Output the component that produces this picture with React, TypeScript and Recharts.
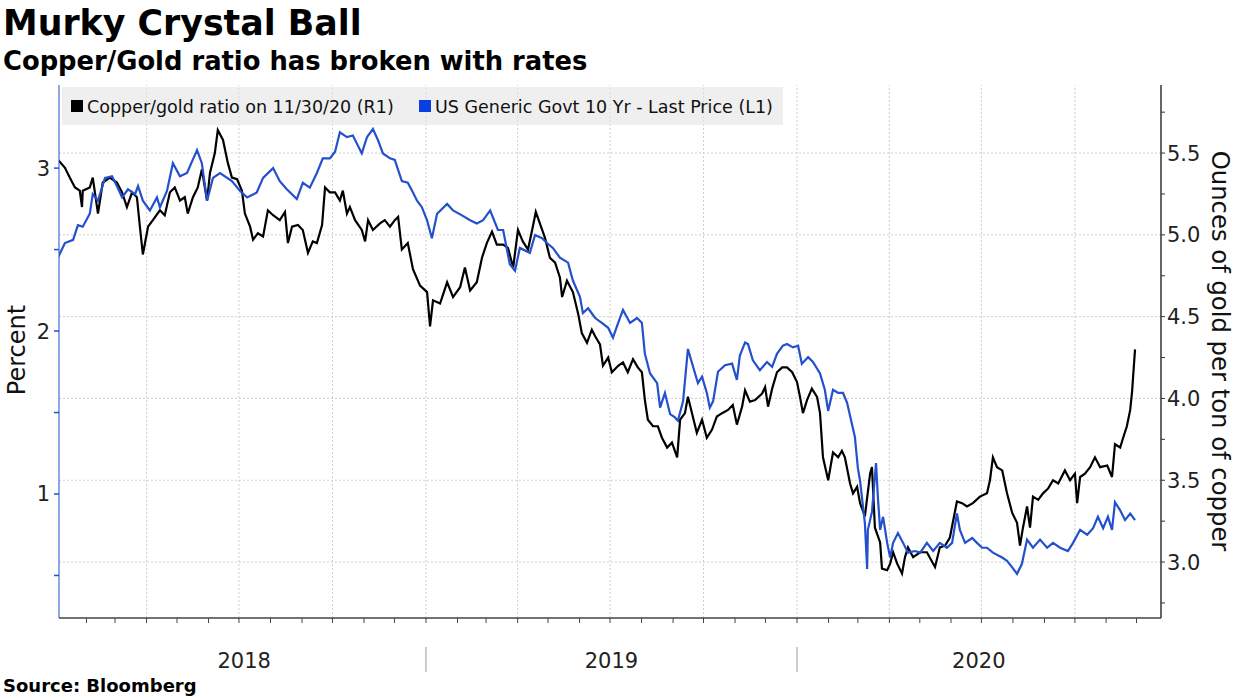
import { LineChart, Line, XAxis, YAxis, ReferenceLine } from 'recharts';

const FONT = '"DejaVu Sans", Verdana, sans-serif';
const BLUE = '#2350cc';
const GRID = '#cfcfcf';

// dates as decimal years
const copperDates = [
  2018.008, 2018.027, 2018.040, 2018.054, 2018.067, 2018.073, 2018.075, 2018.094, 2018.102, 2018.116,
  2018.129, 2018.148, 2018.167, 2018.181, 2018.194, 2018.208, 2018.221, 2018.229, 2018.237, 2018.251,
  2018.264, 2018.283, 2018.296, 2018.310, 2018.323, 2018.337, 2018.350, 2018.358, 2018.372, 2018.385,
  2018.396, 2018.410, 2018.418, 2018.431, 2018.439, 2018.453, 2018.466, 2018.477, 2018.491, 2018.504,
  2018.512, 2018.526, 2018.534, 2018.547, 2018.561, 2018.574, 2018.588, 2018.606, 2018.620, 2018.628,
  2018.639, 2018.655, 2018.668, 2018.682, 2018.695, 2018.706, 2018.720, 2018.728, 2018.741, 2018.755,
  2018.768, 2018.776, 2018.787, 2018.795, 2018.809, 2018.827, 2018.836, 2018.844, 2018.857, 2018.876,
  2018.889, 2018.903, 2018.916, 2018.925, 2018.935, 2018.951, 2018.965, 2018.984, 2019.003, 2019.011,
  2019.019, 2019.038, 2019.057, 2019.073, 2019.092, 2019.105, 2019.119, 2019.137, 2019.151, 2019.164,
  2019.178, 2019.191, 2019.208, 2019.221, 2019.235, 2019.248, 2019.261, 2019.275, 2019.288, 2019.296,
  2019.307, 2019.321, 2019.334, 2019.348, 2019.361, 2019.367, 2019.380, 2019.396, 2019.410, 2019.420,
  2019.434, 2019.447, 2019.456, 2019.469, 2019.477, 2019.491, 2019.501, 2019.518, 2019.531, 2019.544,
  2019.558, 2019.571, 2019.582, 2019.590, 2019.598, 2019.612, 2019.625, 2019.636, 2019.650, 2019.663,
  2019.677, 2019.685, 2019.698, 2019.706, 2019.717, 2019.730, 2019.744, 2019.757, 2019.771, 2019.784,
  2019.798, 2019.814, 2019.827, 2019.838, 2019.852, 2019.860, 2019.873, 2019.887, 2019.906, 2019.914,
  2019.922, 2019.933, 2019.946, 2019.960, 2019.973, 2019.987, 2020.000, 2020.008, 2020.016, 2020.027,
  2020.040, 2020.054, 2020.062, 2020.070, 2020.084, 2020.097, 2020.111, 2020.121, 2020.129, 2020.143,
  2020.151, 2020.162, 2020.170, 2020.183, 2020.197, 2020.202, 2020.210, 2020.224, 2020.229, 2020.243,
  2020.251, 2020.259, 2020.270, 2020.283, 2020.291, 2020.299, 2020.313, 2020.332, 2020.350, 2020.372,
  2020.385, 2020.399, 2020.412, 2020.431, 2020.445, 2020.458, 2020.474, 2020.493, 2020.512, 2020.520,
  2020.528, 2020.539, 2020.553, 2020.566, 2020.580, 2020.593, 2020.601, 2020.609, 2020.620, 2020.628,
  2020.636, 2020.650, 2020.663, 2020.677, 2020.690, 2020.704, 2020.722, 2020.736, 2020.749, 2020.755,
  2020.763, 2020.776, 2020.790, 2020.803, 2020.817, 2020.836, 2020.849, 2020.857, 2020.871, 2020.879,
  2020.889, 2020.898, 2020.903, 2020.911,
];
const copperRatio = [
  5.46, 5.41, 5.35, 5.29, 5.27, 5.17, 5.27, 5.29, 5.35, 5.13,
  5.32, 5.35, 5.32, 5.26, 5.17, 5.26, 5.23, 5.05, 4.88, 5.05,
  5.09, 5.15, 5.12, 5.26, 5.29, 5.21, 5.23, 5.13, 5.23, 5.29,
  5.40, 5.21, 5.38, 5.50, 5.64, 5.58, 5.44, 5.35, 5.34, 5.27,
  5.13, 5.05, 4.97, 5.01, 4.99, 5.15, 5.12, 5.09, 5.14, 4.95,
  5.05, 5.06, 5.03, 4.89, 4.96, 4.95, 5.06, 5.29, 5.26, 5.26,
  5.21, 5.27, 5.13, 5.17, 5.09, 5.03, 4.96, 5.09, 5.03, 5.07,
  5.09, 5.05, 5.09, 5.11, 4.91, 4.95, 4.79, 4.69, 4.65, 4.44,
  4.60, 4.58, 4.71, 4.62, 4.68, 4.80, 4.66, 4.71, 4.86, 4.95,
  5.02, 4.94, 4.94, 4.92, 4.80, 5.03, 4.96, 4.91, 5.05, 5.14,
  5.07, 4.98, 4.86, 4.83, 4.74, 4.62, 4.72, 4.65, 4.52, 4.40,
  4.34, 4.42, 4.38, 4.33, 4.20, 4.25, 4.16, 4.20, 4.22, 4.16,
  4.24, 4.19, 4.16, 3.99, 3.87, 3.83, 3.83, 3.76, 3.70, 3.73,
  3.64, 3.87, 3.91, 4.01, 3.91, 3.79, 3.87, 3.76, 3.81, 3.89,
  3.91, 3.93, 3.96, 3.84, 3.95, 4.05, 3.98, 3.99, 4.03, 4.07,
  3.95, 4.06, 4.16, 4.19, 4.19, 4.16, 4.10, 4.01, 3.91, 3.99,
  4.06, 4.01, 3.91, 3.64, 3.50, 3.67, 3.64, 3.68, 3.64, 3.48,
  3.42, 3.46, 3.36, 3.28, 3.54, 3.58, 3.21, 3.12, 2.96, 2.95,
  2.99, 3.06, 2.99, 2.93, 3.03, 3.09, 3.03, 3.06, 3.06, 2.97,
  3.09, 3.10, 3.15, 3.37, 3.36, 3.34, 3.36, 3.40, 3.42, 3.50,
  3.64, 3.58, 3.56, 3.42, 3.30, 3.24, 3.10, 3.21, 3.34, 3.21,
  3.40, 3.38, 3.42, 3.45, 3.50, 3.48, 3.56, 3.50, 3.54, 3.36,
  3.52, 3.54, 3.58, 3.64, 3.58, 3.59, 3.52, 3.72, 3.70, 3.76,
  3.83, 3.93, 4.04, 4.30,
];

const yieldDates = [
  2018.008, 2018.027, 2018.049, 2018.062, 2018.075, 2018.094, 2018.102, 2018.116, 2018.135, 2018.154,
  2018.167, 2018.181, 2018.197, 2018.216, 2018.224, 2018.237, 2018.256, 2018.275, 2018.283, 2018.302,
  2018.318, 2018.337, 2018.356, 2018.383, 2018.396, 2018.410, 2018.426, 2018.445, 2018.477, 2018.499,
  2018.518, 2018.544, 2018.561, 2018.588, 2018.606, 2018.625, 2018.652, 2018.668, 2018.687, 2018.706,
  2018.722, 2018.741, 2018.755, 2018.768, 2018.787, 2018.803, 2018.827, 2018.841, 2018.857, 2018.871,
  2018.884, 2018.903, 2018.916, 2018.935, 2018.951, 2018.965, 2018.976, 2018.989, 2019.003, 2019.016,
  2019.030, 2019.057, 2019.073, 2019.097, 2019.119, 2019.137, 2019.154, 2019.173, 2019.194, 2019.208,
  2019.226, 2019.240, 2019.253, 2019.280, 2019.294, 2019.313, 2019.326, 2019.342, 2019.361, 2019.383,
  2019.396, 2019.415, 2019.423, 2019.437, 2019.456, 2019.474, 2019.491, 2019.504, 2019.518, 2019.531,
  2019.550, 2019.569, 2019.582, 2019.590, 2019.604, 2019.623, 2019.631, 2019.644, 2019.658, 2019.671,
  2019.679, 2019.693, 2019.706, 2019.720, 2019.733, 2019.744, 2019.757, 2019.765, 2019.774, 2019.787,
  2019.806, 2019.825, 2019.838, 2019.846, 2019.860, 2019.868, 2019.881, 2019.900, 2019.919, 2019.933,
  2019.946, 2019.962, 2019.973, 2019.989, 2020.003, 2020.013, 2020.030, 2020.043, 2020.062, 2020.075,
  2020.084, 2020.097, 2020.111, 2020.124, 2020.135, 2020.148, 2020.156, 2020.164, 2020.170, 2020.175,
  2020.183, 2020.189, 2020.191, 2020.202, 2020.213, 2020.218, 2020.224, 2020.232, 2020.243, 2020.251,
  2020.259, 2020.272, 2020.286, 2020.299, 2020.318, 2020.332, 2020.350, 2020.367, 2020.385, 2020.404,
  2020.418, 2020.431, 2020.439, 2020.453, 2020.472, 2020.485, 2020.499, 2020.512, 2020.528, 2020.553,
  2020.566, 2020.580, 2020.593, 2020.606, 2020.620, 2020.636, 2020.655, 2020.674, 2020.690, 2020.709,
  2020.730, 2020.744, 2020.763, 2020.782, 2020.798, 2020.811, 2020.825, 2020.838, 2020.849, 2020.857,
  2020.871, 2020.884, 2020.898, 2020.911,
];
const yieldPct = [
  2.45, 2.54, 2.56, 2.65, 2.64, 2.72, 2.84, 2.80, 2.94, 2.95,
  2.89, 2.82, 2.87, 2.84, 2.89, 2.80, 2.74, 2.82, 2.76, 2.86,
  3.03, 2.95, 2.97, 3.11, 3.03, 2.80, 2.94, 2.97, 2.92, 2.86,
  2.82, 2.85, 2.94, 3.00, 2.92, 2.87, 2.81, 2.91, 2.88, 2.97,
  3.06, 3.06, 3.10, 3.22, 3.19, 3.20, 3.09, 3.19, 3.24, 3.17,
  3.09, 3.06, 3.05, 2.92, 2.91, 2.85, 2.80, 2.76, 2.68, 2.57,
  2.72, 2.78, 2.74, 2.71, 2.68, 2.66, 2.68, 2.74, 2.62, 2.62,
  2.41, 2.37, 2.51, 2.48, 2.59, 2.57, 2.54, 2.51, 2.45, 2.42,
  2.31, 2.21, 2.11, 2.14, 2.08, 2.05, 2.02, 1.96, 2.05, 2.13,
  2.05, 2.08, 2.05, 1.86, 1.74, 1.68, 1.53, 1.62, 1.49, 1.47,
  1.45, 1.57, 1.89, 1.78, 1.68, 1.72, 1.62, 1.53, 1.57, 1.75,
  1.79, 1.80, 1.70, 1.85, 1.93, 1.92, 1.82, 1.76, 1.81, 1.78,
  1.86, 1.91, 1.92, 1.90, 1.91, 1.80, 1.84, 1.81, 1.74, 1.64,
  1.51, 1.64, 1.62, 1.62, 1.56, 1.43, 1.35, 1.16, 1.08, 0.98,
  0.82, 0.54, 0.78, 0.89, 1.19, 0.98, 0.78, 0.86, 0.70, 0.61,
  0.70, 0.76, 0.70, 0.64, 0.65, 0.64, 0.70, 0.65, 0.70, 0.67,
  0.70, 0.88, 0.78, 0.70, 0.73, 0.70, 0.67, 0.67, 0.64, 0.61,
  0.59, 0.55, 0.51, 0.57, 0.72, 0.67, 0.72, 0.67, 0.70, 0.67,
  0.65, 0.70, 0.78, 0.75, 0.79, 0.86, 0.79, 0.86, 0.78, 0.95,
  0.90, 0.84, 0.88, 0.84,
];

// axis ticks (decimal years): month starts, quarter grid, year boundaries and label spots
const monthTicks = [
  2018.085, 2018.162, 2018.247, 2018.329, 2018.414, 2018.496, 2018.581, 2018.666, 2018.748, 2018.833, 2018.915,
  2019, 2019.085, 2019.162, 2019.247, 2019.329, 2019.414, 2019.496, 2019.581, 2019.666, 2019.748, 2019.833, 2019.915,
  2020, 2020.085, 2020.164, 2020.249, 2020.331, 2020.415, 2020.497, 2020.582, 2020.667, 2020.749, 2020.833, 2020.915,
];
const quarterTicks = [2018.247, 2018.496, 2018.748, 2019, 2019.247, 2019.496, 2019.748, 2020, 2020.249, 2020.497, 2020.749];
const yearStarts = [2019, 2020];
const yearLabelTicks = [2018.51, 2019.5, 2020.49];
const yearLabels = ['2018', '2019', '2020'];

const pctTicks = [0.5, 1, 1.5, 2, 2.5, 3];
const ratioTicks = [2.75, 3, 3.25, 3.5, 3.75, 4, 4.25, 4.5, 4.75, 5, 5.25, 5.5, 5.75];
const ratioGrid = [3, 3.5, 4, 4.5, 5, 5.5];

const copperData = copperDates.map((t, i) => ({ t, v: copperRatio[i] }));
const yieldData = yieldDates.map((t, i) => ({ t, v: yieldPct[i] }));

function YearTick(props: any) {
  const { x, y, payload } = props;
  const v = payload.value;
  const li = yearLabelTicks.indexOf(v);
  if (li >= 0) {
    return (
      <text x={x} y={y + 50} textAnchor="middle" fontFamily={FONT} fontSize={21} fill="#222">
        {yearLabels[li]}
      </text>
    );
  }
  return (
    <g>
      <line x1={x} x2={x} y1={y} y2={y + 5} stroke="#444" />
      {yearStarts.includes(v) && <line x1={x} x2={x} y1={y + 29} y2={y + 54} stroke="#999" />}
    </g>
  );
}

export default function App() {
  return (
    <div style={{ position: 'absolute', left: 0, top: 0, width: 1240, height: 697, background: '#fff' }}>
      <LineChart width={1240} height={697} margin={{ top: 85, right: 0, bottom: 0, left: 0 }}>
        <XAxis
          type="number"
          dataKey="t"
          domain={[2018.011, 2020.981]}
          allowDataOverflow
          ticks={[...monthTicks, ...yearLabelTicks]}
          interval={0}
          height={79}
          tickSize={0}
          tickMargin={0}
          tickLine={false}
          axisLine={{ stroke: '#444', strokeWidth: 1.5 }}
          tick={<YearTick />}
        />
        <YAxis
          yAxisId="L"
          domain={[0.239, 3.51]}
          allowDataOverflow
          ticks={pctTicks}
          interval={0}
          width={59}
          tickSize={5}
          tickMargin={4}
          axisLine={{ stroke: BLUE }}
          tickLine={{ stroke: BLUE, strokeWidth: 1.5 }}
          tick={{ fontFamily: FONT, fontSize: 21, fill: '#222' }}
          tickFormatter={(v: number) => (Number.isInteger(v) ? String(v) : '')}
        />
        <YAxis
          yAxisId="R"
          orientation="right"
          domain={[2.658, 5.916]}
          allowDataOverflow
          ticks={ratioTicks}
          interval={0}
          width={79}
          tickSize={4}
          tickMargin={2}
          axisLine={{ stroke: '#333', strokeWidth: 1.5 }}
          tickLine={{ stroke: '#333' }}
          tick={{ fontFamily: FONT, fontSize: 21, fill: '#222', textAnchor: 'start' }}
          tickFormatter={(v: number) => (Number.isInteger(v * 2) ? v.toFixed(1) : '')}
        />
        {ratioGrid.map((g) => (
          <ReferenceLine key={'h' + g} yAxisId="R" y={g} stroke={GRID} strokeDasharray="2 2" />
        ))}
        {quarterTicks.map((q) => (
          <ReferenceLine key={'v' + q} yAxisId="R" x={q} stroke={GRID} strokeDasharray="2 2" />
        ))}
        <Line
          yAxisId="R"
          data={copperData}
          dataKey="v"
          type="linear"
          stroke="#000"
          strokeWidth={2.2}
          dot={false}
          isAnimationActive={false}
        />
        <Line
          yAxisId="L"
          data={yieldData}
          dataKey="v"
          type="linear"
          stroke={BLUE}
          strokeWidth={2.2}
          dot={false}
          isAnimationActive={false}
        />
      </LineChart>
      <svg
        width={1240}
        height={697}
        style={{ position: 'absolute', left: 0, top: 0, pointerEvents: 'none' }}
        fontFamily={FONT}
      >
        <text x={3} y={35} fontSize={34.8} fontWeight="bold" fill="#000">Murky Crystal Ball</text>
        <text x={3} y={70} fontSize={25.8} fontWeight="bold" fill="#000">Copper/Gold ratio has broken with rates</text>
        <rect x={62} y={87} width={721} height={38} fill="#e4e4e4" fillOpacity={0.6} />
        <rect x={71} y={100} width={12} height={12} fill="#000" />
        <text x={87} y={113} fontSize={17.5} fill="#111">Copper/gold ratio on 11/30/20 (R1)</text>
        <rect x={419} y={100} width={12} height={12} fill="#0b3ee0" />
        <text x={435} y={113} fontSize={17.5} fill="#111">US Generic Govt 10 Yr - Last Price (L1)</text>
        <text x={25} y={350} fontSize={24} fill="#111" textAnchor="middle" transform="rotate(-90 25 350)">Percent</text>
        <text x={1212} y={351} fontSize={24.3} fill="#111" textAnchor="middle" transform="rotate(90 1212 351)">Ounces of gold per ton of copper</text>
        <text x={3} y={692} fontSize={18} fontWeight="bold" fill="#000">Source: Bloomberg</text>
      </svg>
    </div>
  );
}
